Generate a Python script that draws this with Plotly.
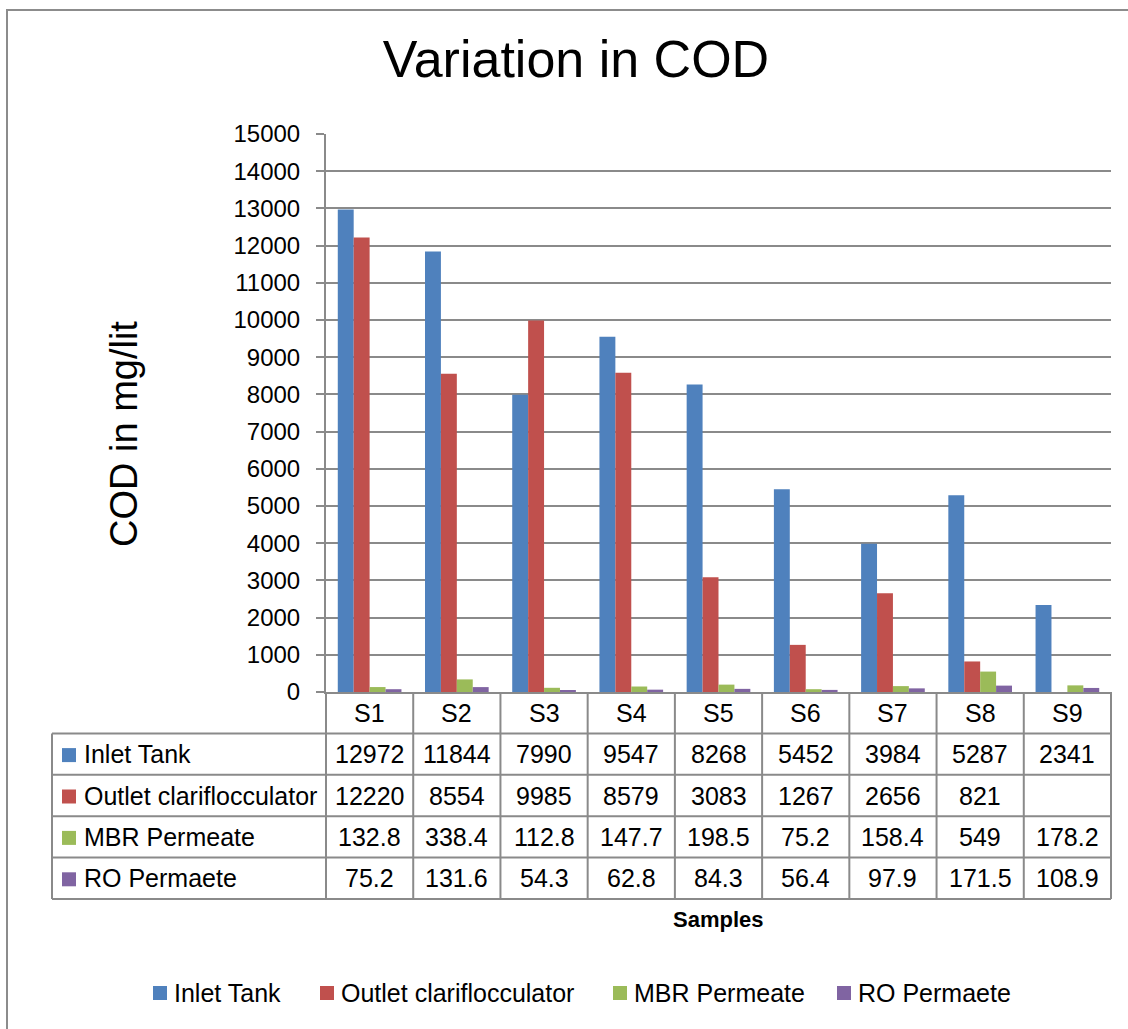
import plotly.graph_objects as go

samples = ["S1", "S2", "S3", "S4", "S5", "S6", "S7", "S8", "S9"]
series_names = ["Inlet Tank", "Outlet clariflocculator", "MBR Permeate", "RO Permaete"]
inlet_tank = [12972, 11844, 7990, 9547, 8268, 5452, 3984, 5287, 2341]
outlet_clari = [12220, 8554, 9985, 8579, 3083, 1267, 2656, 821, None]
mbr_permeate = [132.8, 338.4, 112.8, 147.7, 198.5, 75.2, 158.4, 549, 178.2]
ro_permeate = [75.2, 131.6, 54.3, 62.8, 84.3, 56.4, 97.9, 171.5, 108.9]
colors = ["#4F81BD", "#C0504D", "#9BBB59", "#8064A2"]
y_ticks = list(range(0, 15001, 1000))

W, H = 1128, 1029
L, R, T, B = 326, 17, 134, 337
PW, PH = W - L - R, H - T - B
FONT = "Liberation Sans, Arial, sans-serif"
GRID = "#8a8a8a"

def px_x(px):
    return (px - L) / PW

def px_y(py):
    return (H - B - py) / PH

all_series = [inlet_tank, outlet_clari, mbr_permeate, ro_permeate]

fig = go.Figure()
for name, vals, col in zip(series_names, all_series, colors):
    fig.add_trace(go.Bar(x=samples, y=vals, name=name, showlegend=False,
                         marker=dict(color=col, line=dict(width=0))))

shapes = []
annotations = []
n = len(samples)
row_h = 41.4
y0 = H - B  # 692
rows_px = [y0 + k * row_h for k in range(6)]
table_left = px_x(52)

# vertical table lines at category boundaries
for i in range(n + 1):
    xp = i / n
    shapes.append(dict(type="line", xref="paper", yref="paper", x0=xp, x1=xp,
                       y0=px_y(rows_px[0]), y1=px_y(rows_px[-1]), line=dict(color=GRID, width=2)))
shapes.append(dict(type="line", xref="paper", yref="paper", x0=table_left, x1=table_left,
                   y0=px_y(rows_px[1]), y1=px_y(rows_px[-1]), line=dict(color=GRID, width=2)))
for k in range(1, 6):
    shapes.append(dict(type="line", xref="paper", yref="paper", x0=table_left, x1=1,
                       y0=px_y(rows_px[k]), y1=px_y(rows_px[k]), line=dict(color=GRID, width=2)))

# header labels
for s in samples:
    annotations.append(dict(x=s, xref="x", yref="paper", y=px_y(rows_px[0] + row_h / 2),
                            text=s, showarrow=False, font=dict(size=25, color="black", family=FONT),
                            xanchor="center", yanchor="middle"))

def fmt(v):
    if v is None:
        return ""
    return f"{v:g}"

for r, (name, vals, col) in enumerate(zip(series_names, all_series, colors)):
    yc = rows_px[r + 1] + row_h / 2
    shapes.append(dict(type="rect", xref="paper", yref="paper",
                       x0=px_x(62), x1=px_x(76), y0=px_y(yc - 6), y1=px_y(yc + 8),
                       fillcolor=col, line=dict(width=0)))
    annotations.append(dict(x=px_x(82), xref="paper", yref="paper", y=px_y(yc), text=name,
                            showarrow=False, xanchor="left", yanchor="middle",
                            font=dict(size=25, color="black", family=FONT)))
    for s, v in zip(samples, vals):
        if v is None:
            continue
        annotations.append(dict(x=s, xref="x", yref="paper", y=px_y(yc), text=fmt(v),
                                showarrow=False, xanchor="center", yanchor="middle",
                                font=dict(size=25, color="black", family=FONT)))

# bottom legend (drawn as symbols + texts)
legend_starts = [153, 320, 613, 837]
legend_y = 993
for name, col, xs in zip(series_names, colors, legend_starts):
    shapes.append(dict(type="rect", xref="paper", yref="paper",
                       x0=px_x(xs), x1=px_x(xs + 14), y0=px_y(legend_y + 7), y1=px_y(legend_y - 7),
                       fillcolor=col, line=dict(width=0)))
    annotations.append(dict(x=px_x(xs + 19), y=px_y(legend_y), xref="paper", yref="paper", text=name,
                            showarrow=False, xanchor="left", yanchor="middle",
                            font=dict(size=25, color="black", family=FONT)))

# axis titles
annotations.append(dict(x=px_x(124), y=px_y(434), xref="paper", yref="paper", text="COD in mg/lit",
                        textangle=-90, showarrow=False, xanchor="center", yanchor="middle",
                        font=dict(size=38, color="black", family=FONT)))
annotations.append(dict(x=px_x(718), y=px_y(919), xref="paper", yref="paper", text="<b>Samples</b>",
                        showarrow=False, xanchor="center", yanchor="middle",
                        font=dict(size=22, color="black", family=FONT)))

# outer chart border
shapes.append(dict(type="rect", xref="paper", yref="paper", x0=px_x(7), x1=px_x(1150),
                   y0=px_y(1050), y1=px_y(10), line=dict(color="#8c8c8c", width=2), layer="below"))

fig.update_layout(
    width=W, height=H,
    margin=dict(l=L, r=R, t=T, b=B, autoexpand=False),
    paper_bgcolor="white", plot_bgcolor="white",
    barmode="group", bargap=0.27, bargroupgap=0,
    showlegend=False,
    title=dict(text="Variation in COD", x=576 / W, xanchor="center", y=1 - 59 / H, yanchor="middle",
               font=dict(size=52, color="black", family=FONT)),
    font=dict(family=FONT, color="black"),
    shapes=shapes, annotations=annotations,
    xaxis=dict(range=[-0.5, 8.5], showticklabels=False, ticks="", showline=True,
               linecolor=GRID, linewidth=2, showgrid=False, zeroline=False, fixedrange=True),
    yaxis=dict(range=[0, 15000], tickvals=y_ticks, ticktext=[str(v) for v in y_ticks],
               showgrid=True, gridcolor=GRID, gridwidth=2, zeroline=False,
               showline=True, linecolor=GRID, linewidth=2, ticks="outside", ticklen=8,
               tickcolor=GRID, tickwidth=2, ticklabelstandoff=11,
               tickfont=dict(size=24, color="black", family=FONT)),
)

fig.write_html("out.html", config={"displayModeBar": False},
               post_script="document.body.style.margin='0';document.body.style.overflow='hidden';")
